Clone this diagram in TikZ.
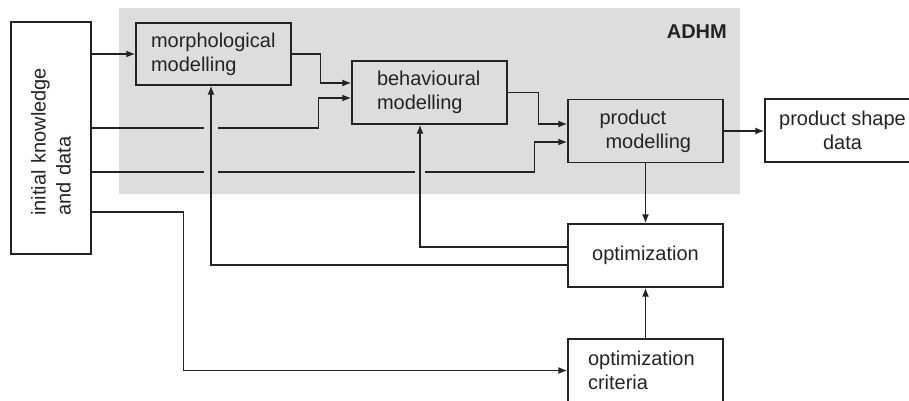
\documentclass[tikz,border=0pt]{standalone}
\usepackage{fontspec}
\setmainfont{Liberation Sans}
\usetikzlibrary{arrows.meta,calc}
\definecolor{adhmgray}{RGB}{221,221,221}
\definecolor{ink}{RGB}{35,35,35}
\begin{document}
\begin{tikzpicture}[x=1pt,y=-1pt,
  box/.style={draw=ink, line width=1.4pt, rectangle, inner ysep=0pt, minimum width=155, minimum height=63, font=\fontsize{20}{24}\selectfont, text=ink},
  conn/.style={draw=ink, line width=1.4pt},
  arr/.style={conn, -{Latex[length=9pt,width=7pt]}},
  gap/.style={fill=adhmgray}
]
\useasboundingbox (0,0) rectangle (909,401);
\fill[adhmgray] (119,8) rectangle (740,194);
\node[font=\bfseries\fontsize{20}{24}\selectfont, anchor=east, text=ink, inner sep=0pt] (adhm) at (727,32) {ADHM};

% boxes
\node[box, minimum width=80, minimum height=232] (init) at (51,138) {};
\node[rotate=90, anchor=west, inner sep=0pt, text width=160, align=left, font=\fontsize{20}{25}\selectfont, text=ink] (initlabel) at (51,216) {initial knowledge\\and data};
\node[box, text width=125, inner xsep=15, align=left, minimum height=62] (morph) at (213.5,54) {morphological\\modelling};
\node[box, text width=105, inner xsep=25, align=left] (behav) at (429.5,92.5) {behavioural\\modelling};
\node[box, text width=92, inner xsep=31.5, align=left] (product) at (645.5,131) {product\\\hspace*{6pt}modelling};
\node[box, align=center] (psd) at (842.5,130.5) {product shape\\data};
\node[box, align=center] (opt) at (645.5,255.5) {optimization};
\node[box, text width=115, inner xsep=20, align=left] (crit) at (645.5,370.5) {optimization\\criteria};

% forward connectors
\draw[arr] (init.east |- morph.west) -- (morph.west);
\draw[arr] (morph.east) -- ++(29,0) |- ($(behav.west)+(0,-9.5)$);
\draw[arr] ($(init.east)+(0,-10)$) -| ($(behav.west)+(-33,5.5)$) -- ($(behav.west)+(0,5.5)$);
\draw[arr] ($(init.east)+(0,34)$) -| ($(product.west)+(-33,11)$) -- ($(product.west)+(0,11)$);
\draw[arr] (behav.east) -- ++(31,0) |- ($(product.west)+(0,-7)$);
\draw[arr] (product.east) -- (product.east -| psd.west);
\draw[arr] (product.south) -- (opt.north);
\draw[arr] (crit.north) -- (opt.south);
\draw[arr] ($(init.east)+(0,74)$) -- ++(92,0) |- (crit.west);

% gaps where feedback lines cross
\fill[gap] (204,125) rectangle (218,131);
\fill[gap] (204,169) rectangle (218,175);
\fill[gap] (415,169) rectangle (425,175);

% feedback connectors
\draw[arr] ($(opt.west)+(0,-8.5)$) -| ($(behav.south)+(-9.5,0)$);
\draw[arr] ($(opt.west)+(0,9.5)$) -| ($(morph.south)+(-2.5,0)$);
\end{tikzpicture}
\end{document}
